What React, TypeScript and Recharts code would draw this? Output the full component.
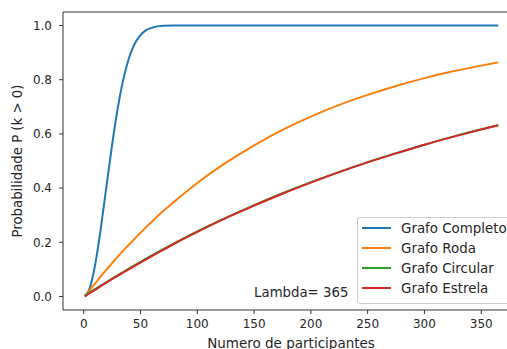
import React from "react";
import {
  LineChart,
  Line,
  XAxis,
  YAxis,
  Legend,
  ReferenceLine,
  ReferenceDot,
} from "recharts";

const participants = [
  1, 5, 10, 15, 20, 25, 30, 35, 40, 45, 50, 55, 60, 70, 80, 100, 125, 150, 175,
  200, 225, 250, 275, 300, 325, 350, 365,
];
const completo = [
  0, 0.027, 0.116, 0.25, 0.406, 0.56, 0.696, 0.804, 0.882, 0.934, 0.965, 0.983,
  0.992, 0.999, 1, 1, 1, 1, 1, 1, 1, 1, 1, 1, 1, 1, 1,
];
const roda = [
  0, 0.022, 0.048, 0.074, 0.099, 0.123, 0.147, 0.17, 0.192, 0.214, 0.235,
  0.256, 0.276, 0.315, 0.351, 0.419, 0.493, 0.558, 0.615, 0.664, 0.707, 0.744,
  0.777, 0.806, 0.831, 0.852, 0.864,
];
const circular = [
  0.003, 0.014, 0.027, 0.04, 0.053, 0.066, 0.079, 0.091, 0.104, 0.116, 0.128,
  0.14, 0.152, 0.175, 0.197, 0.24, 0.29, 0.337, 0.381, 0.422, 0.46, 0.496,
  0.529, 0.56, 0.59, 0.617, 0.632,
];
const estrela = [
  0, 0.011, 0.024, 0.038, 0.051, 0.064, 0.076, 0.089, 0.101, 0.113, 0.125,
  0.137, 0.149, 0.172, 0.195, 0.238, 0.289, 0.335, 0.379, 0.42, 0.459, 0.495,
  0.528, 0.56, 0.589, 0.616, 0.632,
];
const xTicks = [0, 50, 100, 150, 200, 250, 300, 350];
const yTicks = [0, 0.2, 0.4, 0.6, 0.8, 1.0];

const series = [
  { key: "completo", name: "Grafo Completo", color: "#1f77b4" },
  { key: "roda", name: "Grafo Roda", color: "#ff7f0e" },
  { key: "circular", name: "Grafo Circular", color: "#2ca02c" },
  { key: "estrela", name: "Grafo Estrela", color: "#d62728" },
];
const seriesNames = series.map((s) => s.name);

const data = participants.map((n, i) => ({
  n,
  completo: completo[i],
  roda: roda[i],
  circular: circular[i],
  estrela: estrela[i],
}));

const FONT = "'DejaVu Sans', sans-serif";
const TEXT = "#262626";
const SPINE = "#333333";

// matplotlib-ish legend box, kept in plotting order
const LegendBox = ({ payload }: any) => {
  const items = [...(payload || [])].sort(
    (a: any, b: any) => seriesNames.indexOf(a.value) - seriesNames.indexOf(b.value)
  );
  return (
    <div
      style={{
        border: "1px solid #cccccc",
        borderRadius: 3,
        background: "rgba(255,255,255,0.8)",
        padding: "0 0 5px 4px",
        width: 160,
        fontFamily: FONT,
        fontSize: 13.4,
        color: TEXT,
      }}
    >
      {items.map((p: any) => (
        <div
          key={p.value}
          style={{ height: 20, display: "flex", alignItems: "center" }}
        >
          <span
            style={{
              display: "inline-block",
              width: 29,
              height: 2,
              background: p.color,
              marginRight: 10,
            }}
          />
          <span style={{ whiteSpace: "nowrap" }}>{p.value}</span>
        </div>
      ))}
    </div>
  );
};

const LambdaText = ({ viewBox }: any) => (
  <text
    x={viewBox.x}
    y={viewBox.y + 1}
    fontFamily={FONT}
    fontSize={13.3}
    fill={TEXT}
    textAnchor="start"
  >
    Lambda= 365
  </text>
);

export default function App() {
  return (
    <div
      style={{
        position: "absolute",
        left: 0,
        top: 0,
        width: 507,
        height: 349,
        overflow: "hidden",
        background: "#fff",
      }}
    >
      <LineChart
        width={530}
        height={349}
        data={data}
        margin={{ top: 12, right: 11, bottom: 0, left: 0 }}
      >
        <XAxis
          dataKey="n"
          type="number"
          domain={[-18.25, 383.25]}
          allowDataOverflow
          ticks={xTicks}
          height={39}
          tickSize={4}
          tickMargin={5}
          stroke={SPINE}
          tick={{ fill: TEXT, fontSize: 12, fontFamily: FONT }}
          label={{
            value: "Numero de participantes",
            position: "insideBottom",
            offset: 1,
            fill: TEXT,
            fontSize: 13.5,
            fontFamily: FONT,
          }}
        />
        <YAxis
          type="number"
          domain={[-0.05, 1.05]}
          allowDataOverflow
          ticks={yTicks}
          width={63}
          tickSize={4}
          tickMargin={7}
          stroke={SPINE}
          tickFormatter={(v: number) => v.toFixed(1)}
          tick={{ fill: TEXT, fontSize: 12, fontFamily: FONT }}
          label={{
            value: "Probabilidade P (k > 0)",
            angle: -90,
            position: "insideLeft",
            offset: 17,
            fill: TEXT,
            fontSize: 13.3,
            fontFamily: FONT,
            style: { textAnchor: "middle" },
          }}
        />
        <ReferenceLine y={1.05} stroke={SPINE} ifOverflow="visible" />
        <ReferenceLine x={383.25} stroke={SPINE} ifOverflow="visible" />
        {series.map((s) => (
          <Line
            key={s.key}
            type="monotone"
            dataKey={s.key}
            name={s.name}
            stroke={s.color}
            strokeWidth={2}
            dot={false}
            isAnimationActive={false}
          />
        ))}
        <ReferenceDot
          x={150}
          y={0}
          r={0}
          fill="none"
          stroke="none"
          label={<LambdaText />}
        />
        <Legend
          layout="horizontal"
          verticalAlign="middle"
          align="center"
          content={<LegendBox />}
          wrapperStyle={{ left: 357, top: 217, width: "auto", height: "auto" }}
        />
      </LineChart>
    </div>
  );
}
